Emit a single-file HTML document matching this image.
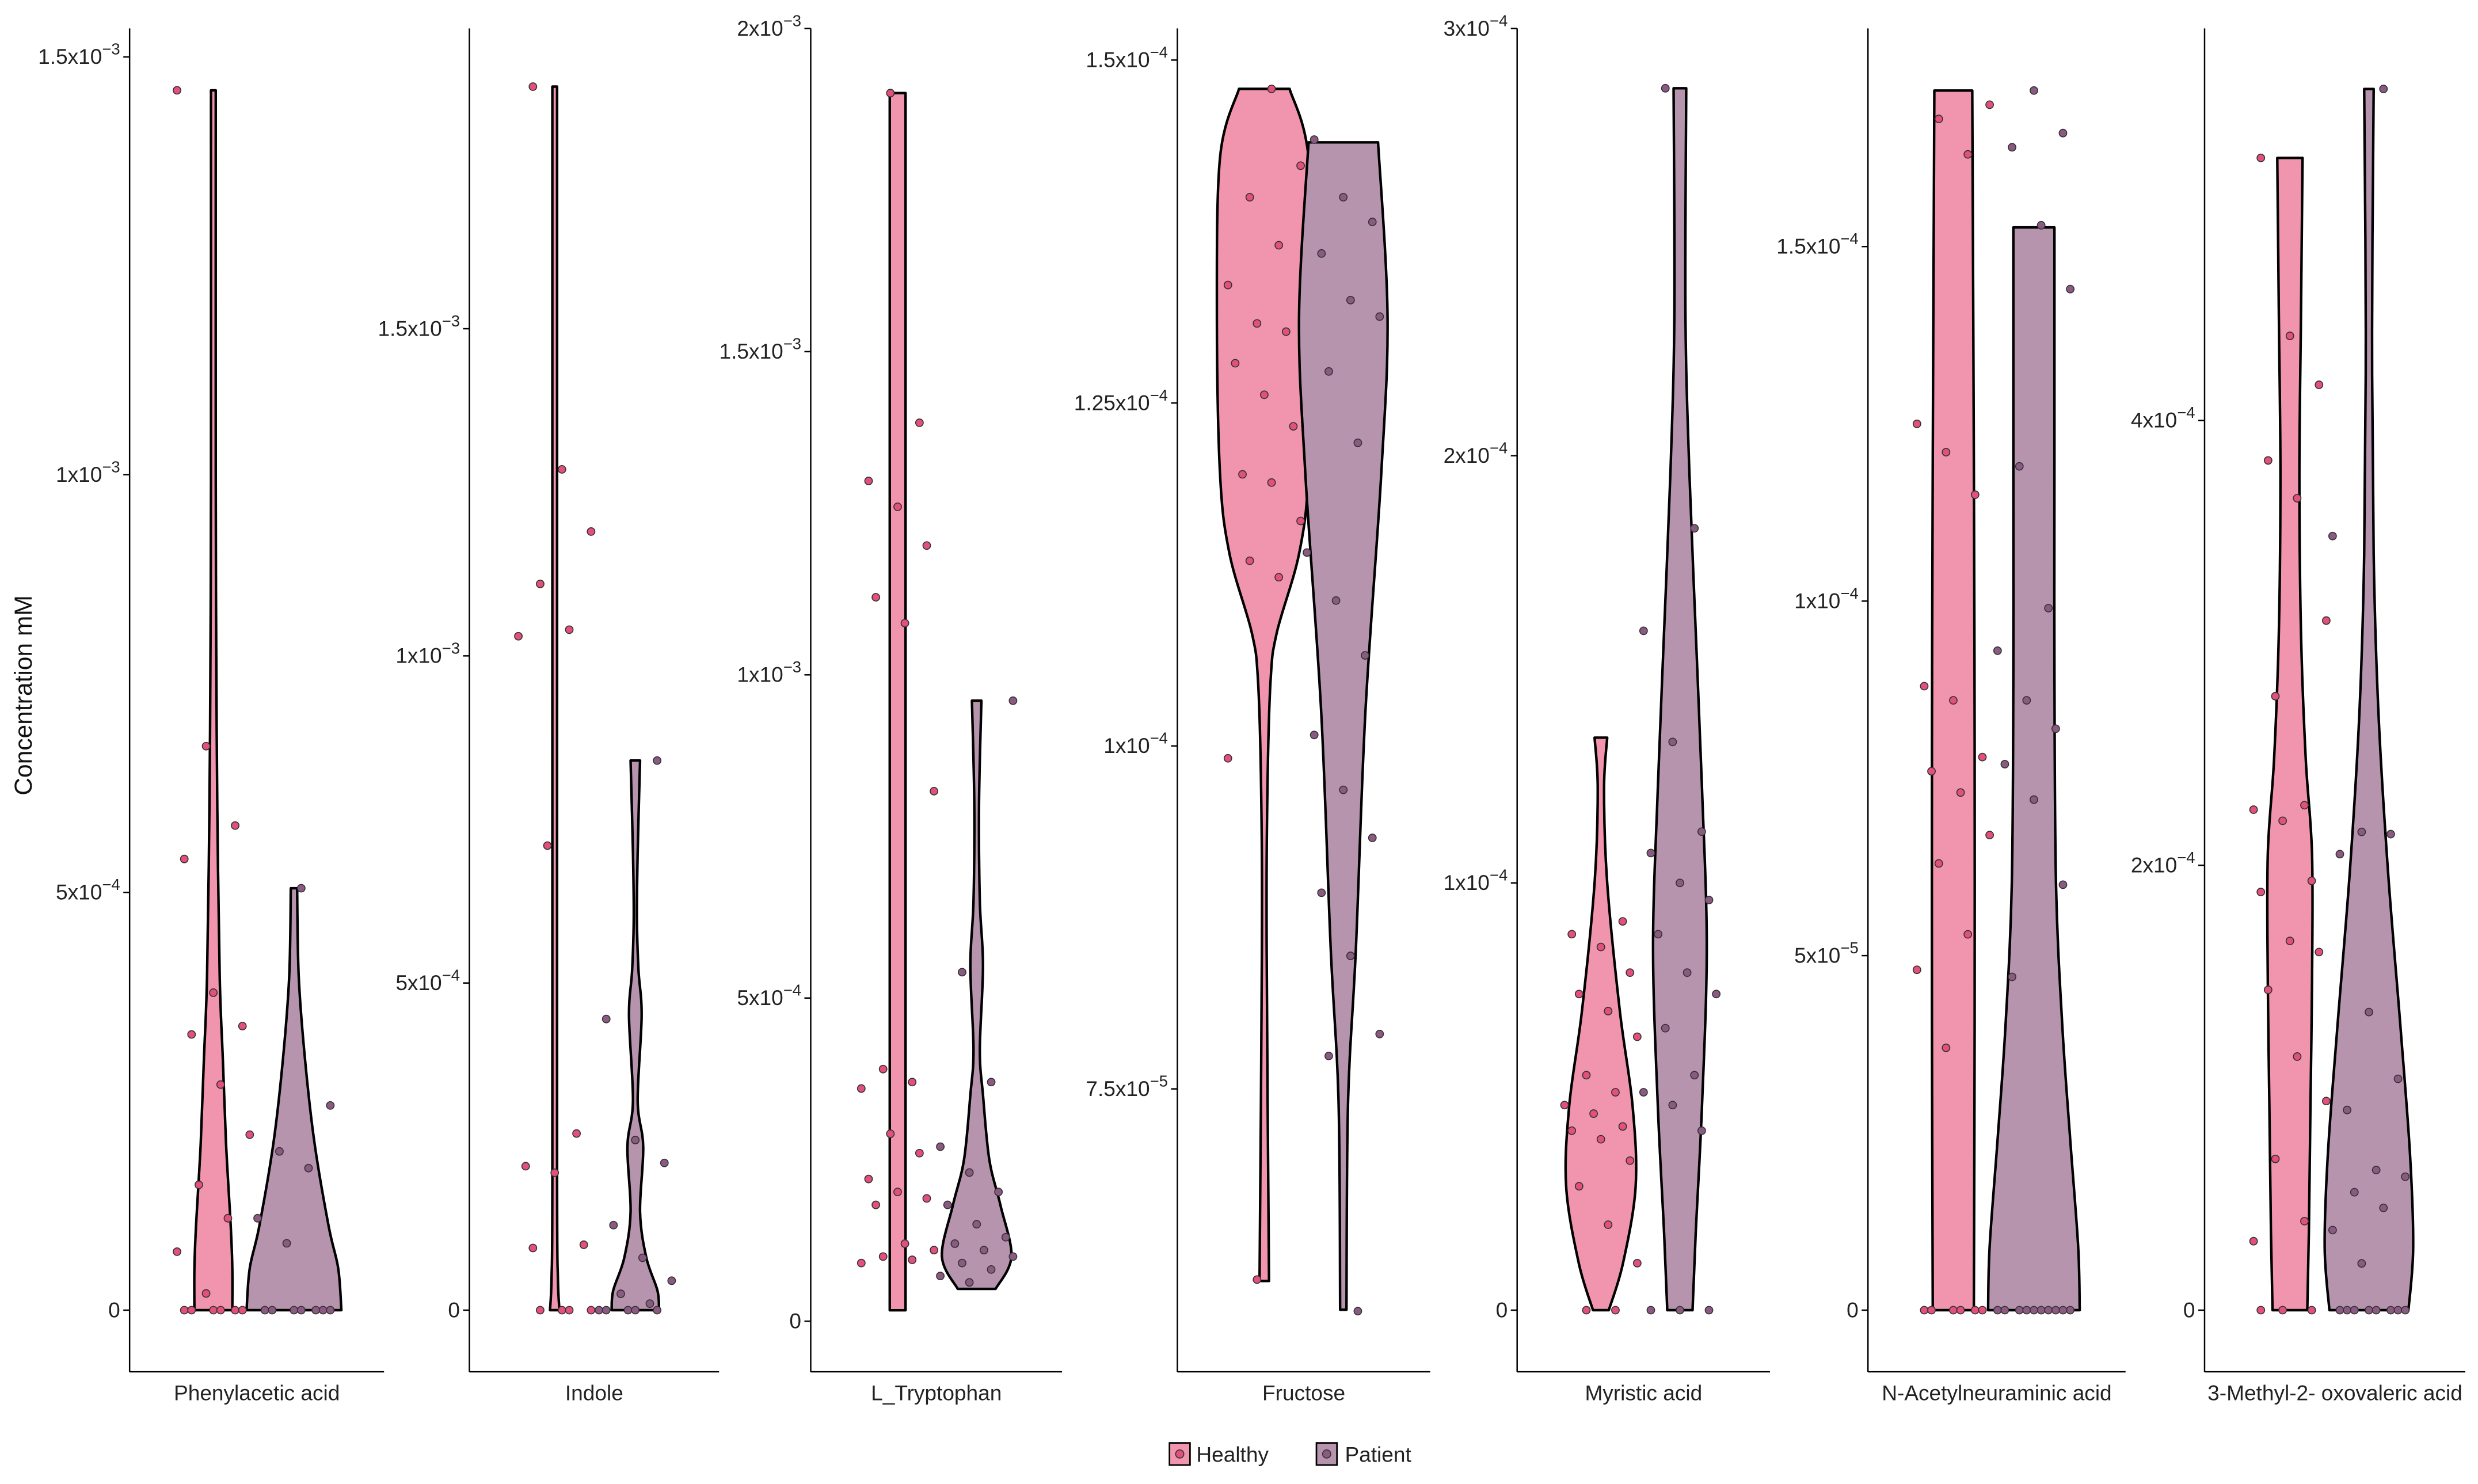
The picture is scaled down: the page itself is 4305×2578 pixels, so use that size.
<!DOCTYPE html>
<html><head><meta charset="utf-8">
<style>
html,body{margin:0;padding:0;background:#fff;}
svg{display:block;}
text{font-family:"Liberation Sans","DejaVu Sans",sans-serif;}
</style></head>
<body>
<svg id="chart" width="4305" height="2578" viewBox="0 0 1568 939" xmlns="http://www.w3.org/2000/svg">
<text x="20" y="440" font-size="15.5" fill="#111" text-anchor="middle" transform="rotate(-90 20 440)">Concentration mM</text>
<g>
<rect x="740" y="913" width="13" height="14" fill="#F195AF" stroke="#000" stroke-width="1"/>
<circle cx="746.5" cy="920" r="2.6" fill="#E3507C" stroke="#333" stroke-width="0.6"/>
<text x="757" y="925" font-size="13.5" fill="#222">Healthy</text>
<rect x="833" y="913" width="13" height="14" fill="#B794AE" stroke="#000" stroke-width="1"/>
<circle cx="839.5" cy="920" r="2.6" fill="#8B5A82" stroke="#333" stroke-width="0.6"/>
<text x="851" y="925" font-size="13.5" fill="#222">Patient</text>
</g>
</svg>
<script>
const panelNames=["Phenylacetic acid","Indole","L_Tryptophan","Fructose","Myristic acid","N-Acetylneuraminic acid","3-Methyl-2- oxovaleric acid"];
const tickVals1=[0,5,10,15]; const tickLabels1=[["0",""],["5x10","−4"],["1x10","−3"],["1.5x10","−3"]];
const tickVals2=[0,5,10,15]; const tickLabels2=[["0",""],["5x10","−4"],["1x10","−3"],["1.5x10","−3"]];
const tickVals3=[0,5,10,15,20]; const tickLabels3=[["0",""],["5x10","−4"],["1x10","−3"],["1.5x10","−3"],["2x10","−3"]];
const tickVals4=[7.5,10,12.5,15]; const tickLabels4=[["7.5x10","−5"],["1x10","−4"],["1.25x10","−4"],["1.5x10","−4"]];
const tickVals5=[0,1,2,3]; const tickLabels5=[["0",""],["1x10","−4"],["2x10","−4"],["3x10","−4"]];
const tickVals6=[0,5,10,15]; const tickLabels6=[["0",""],["5x10","−5"],["1x10","−4"],["1.5x10","−4"]];
const tickVals7=[0,2,4]; const tickLabels7=[["0",""],["2x10","−4"],["4x10","−4"]];

const p1HealthyLevels=[0,0.5,1,2,3,4,6,8,10,14.6]; const p1HealthyDens=[12,12,11,8,6,4,2.5,1.8,1.5,1.5];
const p1PatientLevels=[0,0.5,1,2,3,4,5.05]; const p1PatientDens=[30,28,22,13,7,3,2];
const p2HealthyLevels=[0,0.5,2,10,18.7]; const p2HealthyDens=[3,2,1.5,1.5,1.5];
const p2PatientLevels=[0,0.3,0.8,1.5,2.5,3.2,4.5,5.2,6,7,8.4]; const p2PatientDens=[15,14,7,3,5,1.5,4,2,1,1.5,3];
const p3HealthyLevels=[0.17,1,5,10,19]; const p3HealthyDens=[5,5,5,5,5];
const p3PatientLevels=[0.5,1,1.8,2.5,3.5,4.2,5.5,6.5,8,9.6]; const p3PatientDens=[12,22,15,8,4,2,4,2,1.5,3];
const p4HealthyLevels=[6.1,8.53,9.68,10.48,10.83,11.4,11.98,13.13,14.29,14.79]; const p4HealthyDens=[3,1.5,2,4,8,22,28,30,28,16];
const p4PatientLevels=[5.89,7.4,8.53,10.25,11.98,13.13,14.4]; const p4PatientDens=[2,3,8,14,24,28,22];
const p5HealthyLevels=[0,0.11,0.29,0.48,0.70,1.0,1.22,1.34]; const p5HealthyDens=[5,14,22,20,12,4,2,4];
const p5PatientLevels=[0,0.18,0.48,0.85,1.22,1.59,1.96,2.33,2.86]; const p5PatientDens=[8,10,14,17,14,10,6,3.5,4];
const p6HealthyLevels=[0,4,8,12,17.2]; const p6HealthyDens=[13,13.5,13.5,13,12];
const p6PatientLevels=[0,0.9,2.4,4,6,9,12,15.27]; const p6PatientDens=[29,28,23,18,14,13,13,13];
const p7HealthyLevels=[0,0.35,0.92,1.48,2.05,2.48,3.05,3.76,4.47,5.18]; const p7HealthyDens=[11,12,13,14,14,10,7,6,7,8];
const p7PatientLevels=[0,0.28,0.70,1.27,1.98,2.69,3.4,4.4,5.49]; const p7PatientDens=[25,28,26,20,12,6,3,2,3];

const p1HealthyPts=[14.6,6.75,5.8,5.4,3.8,3.4,3.3,2.7,2.1,1.5,1.1,0.7,0.2,0,0,0,0,0,0];
const p1PatientPts=[5.05,2.45,1.9,1.7,1.1,0.8,0,0,0,0,0,0,0];
const p2HealthyPts=[18.7,12.85,11.9,11.1,10.4,10.3,7.1,2.7,2.2,2.1,1.0,0.95,0,0,0,0];
const p2PatientPts=[8.4,4.45,2.6,2.25,1.3,0.8,0.45,0.25,0.1,0,0,0,0,0];
const p3HealthyPts=[19,13.9,13.0,12.6,12.0,11.2,10.8,8.2,3.9,3.7,3.6,2.9,2.6,2.2,2.0,1.9,1.8,1.2,1.1,1.0,0.95,0.9];
const p3PatientPts=[9.6,5.4,3.7,2.7,2.3,2.0,1.8,1.5,1.3,1.2,1.1,1.0,0.9,0.8,0.7,0.6];
const p4HealthyPts=[14.79,14.23,14.0,13.65,13.36,13.08,13.02,12.79,12.56,12.33,11.98,11.92,11.64,11.35,11.23,9.91,6.11];
const p4PatientPts=[14.42,14.0,13.82,13.59,13.25,13.13,12.73,12.21,11.41,11.06,10.66,10.08,9.68,9.33,8.93,8.47,7.9,7.74,5.88];
const p5HealthyPts=[0.91,0.88,0.85,0.79,0.74,0.70,0.64,0.55,0.51,0.48,0.46,0.43,0.42,0.40,0.35,0.29,0.2,0.11,0,0];
const p5PatientPts=[2.86,1.83,1.59,1.33,1.12,1.07,1.0,0.96,0.88,0.79,0.74,0.66,0.55,0.51,0.48,0.42,0,0,0];
const p6HealthyPts=[17.0,16.8,16.3,12.5,12.1,11.5,8.8,8.6,7.8,7.6,7.3,6.7,6.3,5.3,4.8,3.7,0,0,0,0,0,0];
const p6PatientPts=[17.2,16.6,16.4,15.3,14.4,11.9,9.9,9.3,8.6,8.2,7.7,7.2,6.0,4.7,0,0,0,0,0,0,0,0,0,0];
const p7HealthyPts=[5.18,4.38,4.16,3.82,3.65,3.1,2.76,2.27,2.25,2.2,1.93,1.88,1.66,1.61,1.44,1.14,0.94,0.68,0.40,0.31,0,0,0];
const p7PatientPts=[5.49,3.48,2.15,2.14,2.05,1.34,1.04,0.9,0.63,0.6,0.53,0.46,0.36,0.21,0,0,0,0,0,0,0,0];

const layout=[
 {ax:82,x2:243,hc:135,pc:186,v0:0,y0:829,v1:15,y1:36,ticks:tickVals1,labels:tickLabels1,hl:p1HealthyLevels,hd:p1HealthyDens,pl:p1PatientLevels,pd:p1PatientDens,hp:p1HealthyPts,pp:p1PatientPts},
 {ax:297,x2:455,hc:351,pc:402,v0:0,y0:829,v1:15,y1:208,ticks:tickVals2,labels:tickLabels2,hl:p2HealthyLevels,hd:p2HealthyDens,pl:p2PatientLevels,pd:p2PatientDens,hp:p2HealthyPts,pp:p2PatientPts},
 {ax:513,x2:672,hc:568,pc:618,v0:0,y0:836,v1:20,y1:18,ticks:tickVals3,labels:tickLabels3,hl:p3HealthyLevels,hd:p3HealthyDens,pl:p3PatientLevels,pd:p3PatientDens,hp:p3HealthyPts,pp:p3PatientPts},
 {ax:745,x2:905,hc:800,pc:850,v0:7.5,y0:689,v1:15,y1:38,ticks:tickVals4,labels:tickLabels4,hl:p4HealthyLevels,hd:p4HealthyDens,pl:p4PatientLevels,pd:p4PatientDens,hp:p4HealthyPts,pp:p4PatientPts},
 {ax:960,x2:1120,hc:1013,pc:1063,v0:0,y0:829,v1:3,y1:18,ticks:tickVals5,labels:tickLabels5,hl:p5HealthyLevels,hd:p5HealthyDens,pl:p5PatientLevels,pd:p5PatientDens,hp:p5HealthyPts,pp:p5PatientPts},
 {ax:1182,x2:1345,hc:1236,pc:1287,v0:0,y0:829,v1:15,y1:156,ticks:tickVals6,labels:tickLabels6,hl:p6HealthyLevels,hd:p6HealthyDens,pl:p6PatientLevels,pd:p6PatientDens,hp:p6HealthyPts,pp:p6PatientPts},
 {ax:1395,x2:1560,hc:1449,pc:1499,v0:0,y0:829,v1:4,y1:266,ticks:tickVals7,labels:tickLabels7,hl:p7HealthyLevels,hd:p7HealthyDens,pl:p7PatientLevels,pd:p7PatientDens,hp:p7HealthyPts,pp:p7PatientPts}
];
const NS="http://www.w3.org/2000/svg";
const svg=document.getElementById('chart');
function mk(tag,attrs,parent){const e=document.createElementNS(NS,tag);for(const k in attrs)e.setAttribute(k,attrs[k]);(parent||svg).appendChild(e);return e;}
function smooth(pts){
  let d="";
  for(let i=0;i<pts.length-1;i++){
    const p0=pts[Math.max(0,i-1)],p1=pts[i],p2=pts[i+1],p3=pts[Math.min(pts.length-1,i+2)];
    const c1x=p1[0]+(p2[0]-p0[0])/6,c1y=p1[1]+(p2[1]-p0[1])/6;
    const c2x=p2[0]-(p3[0]-p1[0])/6,c2y=p2[1]-(p3[1]-p1[1])/6;
    d+=" C"+c1x.toFixed(2)+","+c1y.toFixed(2)+" "+c2x.toFixed(2)+","+c2y.toFixed(2)+" "+p2[0].toFixed(2)+","+p2[1].toFixed(2);
  }
  return d;
}
function violinPath(levels,dens,cx,yS){
  const r=[],l=[];
  for(let i=0;i<levels.length;i++){const y=yS(levels[i]);r.push([cx+dens[i],y]);l.push([cx-dens[i],y]);}
  l.reverse();
  return "M"+r[0][0].toFixed(2)+","+r[0][1].toFixed(2)+smooth(r)+" L"+l[0][0].toFixed(2)+","+l[0][1].toFixed(2)+smooth(l)+" Z";
}
function jit(i,k){return ((((i*37+k*13)%11)-5)/5)*23;}
layout.forEach((p,pi)=>{
  const g=mk('g',{});
  
  
  const yS=v=>p.y0+(v-p.v0)*(p.y1-p.y0)/(p.v1-p.v0);
  const ya=mk('line',{x1:p.ax,y1:18,x2:p.ax,y2:868,stroke:'#000','stroke-width':0.9},g);
  
  
  const xa=mk('line',{x1:p.ax,y1:868,x2:p.x2,y2:868,stroke:'#000','stroke-width':0.9},g);
  
  
  p.ticks.forEach((tv,ti)=>{
    const y=yS(tv);
    const tk=mk('line',{x1:p.ax-4,y1:y,x2:p.ax,y2:y,stroke:'#000','stroke-width':0.9},g);
    
    
    const lab=p.labels[ti];
    const t=mk('text',{x:p.ax-6,y:y+4.5,'font-size':13.5,'text-anchor':'end',fill:'#222'},g);
    
    
    if(lab[1]){
      const a=mk('tspan',{},t); a.textContent=lab[0];
      const b=mk('tspan',{dy:-6,'font-size':10},t); b.textContent=lab[1];
    } else t.textContent=lab[0];
  });
  const xl=mk('text',{x:(p.ax+p.x2)/2,y:886,'font-size':13.5,'text-anchor':'middle',fill:'#222'},g);
  
  
  xl.textContent=panelNames[pi];
  const vh=mk('path',{d:violinPath(p.hl,p.hd,p.hc,yS),fill:'#F195AF',stroke:'#000','stroke-width':1.6,'stroke-linejoin':'round'},g);
  
  
  const vp=mk('path',{d:violinPath(p.pl,p.pd,p.pc,yS),fill:'#B794AE',stroke:'#000','stroke-width':1.6,'stroke-linejoin':'round'},g);
  
  
  p.hp.forEach((v,i)=>{
    const c=mk('circle',{cx:p.hc+jit(i,pi),cy:yS(v),r:2.4,fill:'#E3507C',stroke:'#333','stroke-width':0.6},g);
    
    
  });
  p.pp.forEach((v,i)=>{
    const c=mk('circle',{cx:p.pc+jit(i,pi+3),cy:yS(v),r:2.4,fill:'#8B5A82',stroke:'#333','stroke-width':0.6},g);
    
    
  });
});
</script>
</body></html>
